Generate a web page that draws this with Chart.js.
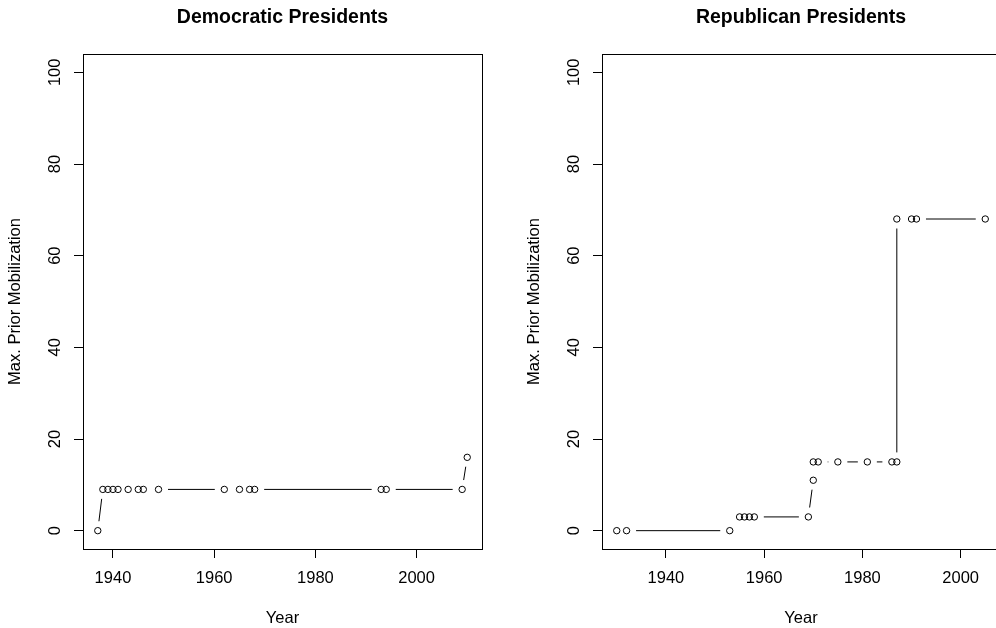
<!DOCTYPE html>
<html>
<head>
<meta charset="utf-8">
<script src="https://cdn.jsdelivr.net/npm/chart.js@4.4.1/dist/chart.umd.min.js"></script>
<style>
  html, body { margin: 0; padding: 0; background: #fff; width: 996px; height: 628px; overflow: hidden; }
  #wrap { position: relative; width: 996px; height: 628px; overflow: hidden; }
  canvas { position: absolute; top: 0; }
  #dem { left: 0; }
  #rep { left: 519px; }
</style>
</head>
<body>
<div id="wrap">
  <canvas id="dem" width="498" height="628"></canvas>
  <canvas id="rep" width="498" height="628"></canvas>
</div>
<script>
// Democratic presidents: year and maximum prior mobilization
const demYears = [1937, 1938, 1939, 1940, 1941, 1943, 1945, 1946, 1949, 1962, 1965, 1967, 1968, 1993, 1994, 2009, 2010];
const demMobilization = [0, 9, 9, 9, 9, 9, 9, 9, 9, 9, 9, 9, 9, 9, 9, 9, 16];

// Republican presidents: year and maximum prior mobilization
const repYears = [1930, 1932, 1953, 1955, 1956, 1957, 1958, 1969, 1970, 1970, 1971, 1975, 1981, 1986, 1987, 1987, 1990, 1991, 2005];
const repMobilization = [0, 0, 0, 3, 3, 3, 3, 3, 11, 15, 15, 15, 15, 15, 15, 68, 68, 68, 68];

const yearTicks = [1940, 1960, 1980, 2000];
const mobilizationTicks = [0, 20, 40, 60, 80, 100];
const panelTitles = ['Democratic Presidents', 'Republican Presidents'];
const xTitle = 'Year';
const yTitle = 'Max. Prior Mobilization';

const FONT = 'Liberation Sans, Arial, Helvetica, sans-serif';

// Segments between successive points, stopping short of each marker
const gappedLines = {
  id: 'gappedLines',
  afterDatasetsDraw(chart, args, opts) {
    const ctx = chart.ctx;
    const gap = opts.gap;
    chart.data.datasets.forEach((ds, i) => {
      const pts = chart.getDatasetMeta(i).data;
      ctx.save();
      ctx.strokeStyle = '#000';
      ctx.lineWidth = 1;
      ctx.beginPath();
      for (let k = 0; k < pts.length - 1; k++) {
        const a = pts[k], b = pts[k + 1];
        const dx = b.x - a.x, dy = b.y - a.y;
        const d = Math.hypot(dx, dy);
        if (d <= 2 * gap) continue;
        const ux = dx / d, uy = dy / d;
        ctx.moveTo(a.x + ux * gap, a.y + uy * gap);
        ctx.lineTo(b.x - ux * gap, b.y - uy * gap);
      }
      ctx.stroke();
      ctx.restore();
    });
  }
};

// Full frame around the plotting region
const plotFrame = {
  id: 'plotFrame',
  afterDraw(chart) {
    const { left, right, top, bottom } = chart.chartArea;
    const al = v => Math.round(v - 0.5) + 0.5;
    const ctx = chart.ctx;
    ctx.save();
    ctx.strokeStyle = '#000';
    ctx.lineWidth = 1;
    ctx.strokeRect(al(left), al(top), al(right) - al(left), al(bottom) - al(top));
    ctx.restore();
  }
};

function panel(canvasId, title, years, values, padRight) {
  const xMin = Math.min(...years), xMax = Math.max(...years);
  const xExt = (xMax - xMin) * 0.04;
  const points = years.map((yr, i) => ({ x: yr, y: values[i] }));

  return new Chart(document.getElementById(canvasId), {
    type: 'scatter',
    data: {
      datasets: [{
        data: points,
        showLine: false,
        pointStyle: 'circle',
        pointRadius: 3.2,
        pointHoverRadius: 3.2,
        borderColor: '#000',
        backgroundColor: 'rgba(0,0,0,0)',
        borderWidth: 1
      }]
    },
    options: {
      responsive: false,
      animation: false,
      devicePixelRatio: 1,
      layout: { padding: { left: 0, right: padRight, top: 0, bottom: 0 } },
      plugins: {
        legend: { display: false },
        tooltip: { enabled: false },
        title: {
          display: true,
          text: title,
          fullSize: false,
          color: '#000',
          font: { family: FONT, size: 19.5, weight: 'bold', lineHeight: 1.2 },
          padding: { top: 5.5, bottom: 25.1 }
        },
        gappedLines: { gap: 9.5 }
      },
      scales: {
        x: {
          type: 'linear',
          min: xMin - xExt,
          max: xMax + xExt,
          afterBuildTicks: s => { s.ticks = yearTicks.map(v => ({ value: v })); },
          afterFit: s => { s.height = 79; },
          ticks: {
            callback: v => String(v),
            color: '#000',
            font: { family: FONT, size: 16.5 },
            padding: 11,
            maxRotation: 0,
            autoSkip: false
          },
          grid: { drawOnChartArea: false, drawTicks: true, tickLength: 9, tickColor: '#000', lineWidth: 1 },
          border: { display: true, color: '#000', width: 1 },
          title: {
            display: true,
            text: xTitle,
            color: '#000',
            font: { family: FONT, size: 16.5, lineHeight: 1.2 },
            padding: { top: 0, bottom: 0 }
          }
        },
        y: {
          type: 'linear',
          min: -4,
          max: 104,
          afterBuildTicks: s => { s.ticks = mobilizationTicks.map(v => ({ value: v })); },
          afterFit: s => { s.width = 83; },
          ticks: {
            callback: v => String(v),
            color: '#000',
            font: { family: FONT, size: 16.5 },
            minRotation: 90,
            maxRotation: 90,
            crossAlign: 'center',
            padding: 5,
            autoSkip: false
          },
          grid: { drawOnChartArea: false, drawTicks: true, tickLength: 9, tickColor: '#000', lineWidth: 1 },
          border: { display: true, color: '#000', width: 1 },
          title: {
            display: true,
            text: yTitle,
            color: '#000',
            font: { family: FONT, size: 16.5, lineHeight: 1.2 },
            padding: { top: 6, bottom: 0 }
          }
        }
      }
    },
    plugins: [gappedLines, plotFrame]
  });
}

panel('dem', panelTitles[0], demYears, demMobilization, 16);
panel('rep', panelTitles[1], repYears, repMobilization, 17);
</script>
</body>
</html>
